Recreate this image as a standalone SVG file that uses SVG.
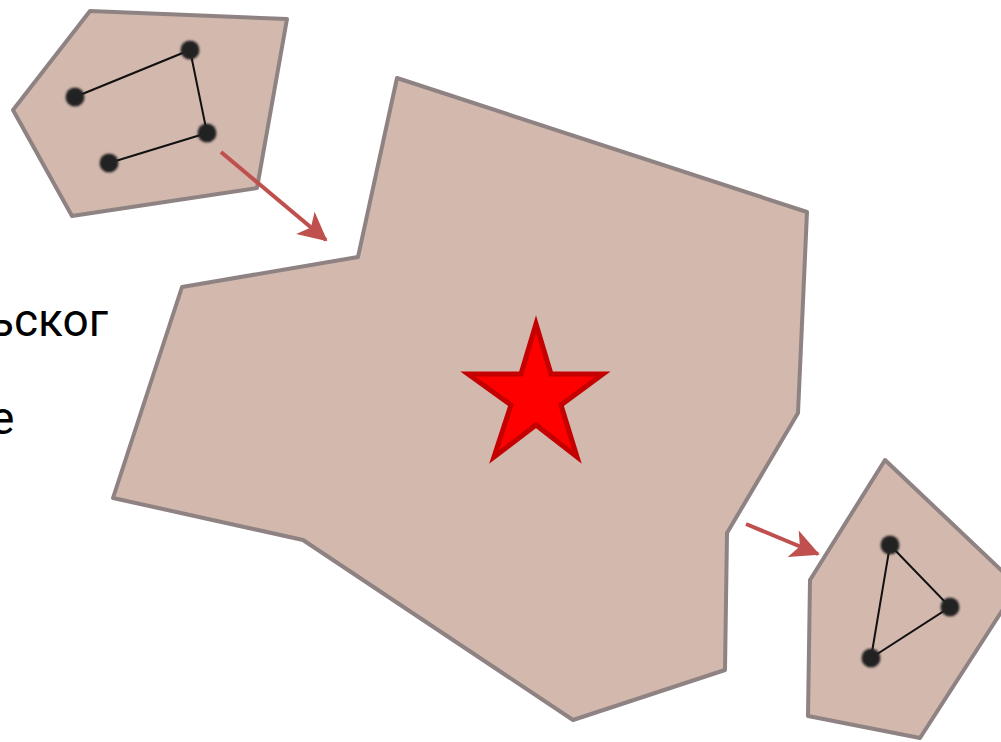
<svg xmlns="http://www.w3.org/2000/svg" width="1001" height="742" viewBox="0 0 1001 742">
<defs>
<style>
.region{fill:#d2b8ad;stroke:#8e8382;stroke-width:4;stroke-linejoin:round}
.edge{stroke:#111;stroke-width:2;fill:none}
.dot{fill:#222;filter:url(#soft)}
.arrow{stroke:#c0504d;stroke-width:4;fill:none}
.label{font-family:Roboto,"Liberation Sans",sans-serif;font-size:46px;fill:#000}
</style>
<filter id="soft" x="-50%" y="-50%" width="200%" height="200%"><feGaussianBlur stdDeviation="1.2"/></filter>
<marker id="ah" viewBox="0 0 10 10" refX="9" refY="5" markerWidth="9" markerHeight="9" markerUnits="userSpaceOnUse" orient="auto" overflow="visible">
<path d="M0,0 L10,5 L0,10 L2.5,5 Z" fill="#c0504d" transform="scale(3.2) translate(-6.5,-3.4)"/>
</marker>
</defs>
<rect width="1001" height="742" fill="#fff"/>
<g id="labels">
<text class="label" x="-11" y="336">ьског</text>
<text class="label" x="-10" y="434">е</text>
</g>
<g id="node-main">
<polygon class="region" points="397,78 807,212 798,413 727,533 725,670 573,720 303,540 113,498 182,287 358,257"/>
<polygon points="536,324 551,374 603,374 561,405 577,457 536,425 494,457 511,405 468,374 521,374" fill="#ff0000" stroke="#c40000" stroke-width="5" stroke-linejoin="miter"/>
</g>
<g id="node-topleft">
<polygon class="region" points="90,11 287,19 257,188 72,216 13,110"/>
<polyline class="edge" points="75,97 190,50 207,133 109,163"/>
<circle class="dot" cx="75" cy="97" r="9.5"/>
<circle class="dot" cx="190" cy="50" r="9.5"/>
<circle class="dot" cx="207" cy="133" r="9.5"/>
<circle class="dot" cx="109" cy="163" r="9.5"/>
</g>
<g id="node-bottomright">
<polygon class="region" points="885,460 1018,586 920,738 808,716 810,580"/>
<polygon class="edge" points="890,545 950,607 871,658"/>
<circle class="dot" cx="890" cy="545" r="9.5"/>
<circle class="dot" cx="950" cy="607" r="9.5"/>
<circle class="dot" cx="871" cy="658" r="9.5"/>
</g>
<g id="connectors">
<line class="arrow" x1="221" y1="152" x2="326" y2="240" marker-end="url(#ah)"/>
<line class="arrow" x1="746" y1="524" x2="818" y2="554" marker-end="url(#ah)"/>
</g>
</svg>
